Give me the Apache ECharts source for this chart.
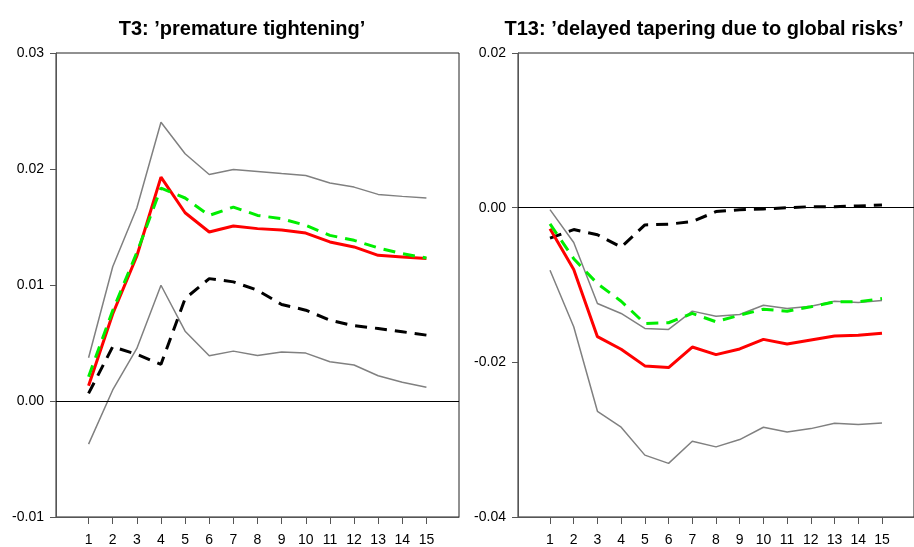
<!DOCTYPE html>
<html>
<head>
<meta charset="utf-8">
<script src="https://cdn.jsdelivr.net/npm/echarts@6/dist/echarts.min.js"></script>
<style>html,body{margin:0;padding:0;background:#fff;}#c{width:914px;height:547px;}</style>
</head>
<body>
<div id="c"></div>
<script>
const horizons = [1,2,3,4,5,6,7,8,9,10,11,12,13,14,15];
const titleLeft = "T3: ’premature tightening’";
const titleRight = "T13: ’delayed tapering due to global risks’";
const leftYTicks = [-0.01, 0.00, 0.01, 0.02, 0.03];
const rightYTicks = [-0.04, -0.02, 0.00, 0.02];

// Left panel (T3)
const t3Red   = [0.00132,0.0075,0.0125,0.0193,0.01623,0.01457,0.01509,0.01486,0.01474,0.01448,0.01371,0.01328,0.01256,0.01242,0.01228];
const t3Green = [0.0021,0.0078,0.0128,0.01836,0.0175,0.0160,0.01672,0.0160,0.01572,0.01514,0.01428,0.01385,0.0132,0.0127,0.01233];
const t3Upper = [0.00373,0.01157,0.01664,0.02403,0.02131,0.01953,0.01996,0.01979,0.01961,0.01944,0.01879,0.01844,0.01781,0.01764,0.0175];
const t3Lower = [-0.00372,0.00095,0.00453,0.00998,0.00602,0.0039,0.0043,0.00393,0.00422,0.00413,0.00339,0.0031,0.00218,0.00161,0.00118];
const t3Black = [0.00066,0.00468,0.00402,0.00316,0.00883,0.01055,0.01027,0.00955,0.00832,0.00783,0.00697,0.00649,0.00625,0.00597,0.00568];

// Right panel (T13)
const t13Red   = [-0.00274,-0.0080,-0.01668,-0.01831,-0.02046,-0.02067,-0.01802,-0.019,-0.01827,-0.01703,-0.01763,-0.01711,-0.0166,-0.01651,-0.01625];
const t13Green = [-0.0021,-0.0066,-0.00982,-0.0121,-0.01497,-0.01488,-0.01368,-0.01475,-0.0139,-0.01313,-0.01339,-0.01282,-0.01218,-0.01218,-0.01175];
const t13Upper = [-0.00026,-0.0045,-0.01239,-0.01368,-0.01561,-0.01574,-0.01338,-0.01403,-0.01381,-0.01261,-0.01304,-0.01274,-0.0121,-0.01227,-0.01201];
const t13Lower = [-0.0081,-0.0154,-0.02633,-0.02839,-0.032,-0.03307,-0.0302,-0.03093,-0.02999,-0.02839,-0.029,-0.02857,-0.02788,-0.02805,-0.02784];
const t13Black = [-0.00394,-0.00283,-0.0035,-0.0051,-0.00223,-0.00214,-0.0018,-0.00051,-0.00026,-0.00017,0.0,0.00013,0.00013,0.00022,0.00035];

const FONT = "Liberation Sans, Arial, Helvetica, sans-serif";
const pair = arr => arr.map((v,i)=>[horizons[i], v]);

function xAxisFor(gi){
  return {
    type:'value', gridIndex:gi, min:-0.35, max:16.35,
    axisLine:{show:true, onZero:false, lineStyle:{color:'#555', width:1}},
    axisTick:{show:true, length:7, lineStyle:{color:'#555'}, customValues:horizons},
    axisLabel:{show:true, margin:16, fontSize:14, color:'#000', fontFamily:FONT, customValues:horizons,
      formatter: v => String(v)},
    splitLine:{show:false}
  };
}
function yAxisFor(gi, ticks, interval){
  return {
    type:'value', gridIndex:gi, min:ticks[0], max:ticks[ticks.length-1], interval:interval,
    axisLine:{show:true, onZero:false, lineStyle:{color:'#555', width:1}},
    axisTick:{show:true, length:6, lineStyle:{color:'#555'}},
    axisLabel:{show:true, margin:12, fontSize:14, color:'#000', fontFamily:FONT,
      formatter: v => (Math.abs(v)<1e-12?0:v).toFixed(2)},
    splitLine:{show:false}
  };
}
function mk(data, gi, color, width, type, z, withZero){
  const s = {
    type:'line', xAxisIndex:gi, yAxisIndex:gi, data:pair(data),
    showSymbol:false, symbol:'none', silent:true, animation:false, z:z,
    lineStyle:{color:color, width:width, type:type}
  };
  if(withZero){
    s.markLine = {silent:true, symbol:['none','none'], label:{show:false},
      lineStyle:{color:'#000', width:1, type:'solid'}, data:[{yAxis:0}], animation:false};
  }
  return s;
}

const chart = echarts.init(document.getElementById('c'));
chart.setOption({
  animation:false,
  backgroundColor:'#fff',
  title:[
    {text:titleLeft, left:237, top:14, textAlign:'center',
      textStyle:{fontFamily:FONT, fontWeight:'bold', fontSize:20, color:'#000'}},
    {text:titleRight, left:699, top:14, textAlign:'center',
      textStyle:{fontFamily:FONT, fontWeight:'bold', fontSize:20, color:'#000'}}
  ],
  grid:[
    {left:56, top:53, width:403, height:465, show:true, borderColor:'#222', borderWidth:1, backgroundColor:'transparent'},
    {left:518, top:53, width:403, height:465, show:true, borderColor:'#222', borderWidth:1, backgroundColor:'transparent'}
  ],
  xAxis:[xAxisFor(0), xAxisFor(1)],
  yAxis:[yAxisFor(0, leftYTicks, 0.01), yAxisFor(1, rightYTicks, 0.02)],
  series:[
    mk(t3Upper,0,'#808080',1.5,'solid',2,true),
    mk(t3Lower,0,'#808080',1.5,'solid',2,false),
    mk(t3Black,0,'#000',3,[12,8],3,false),
    mk(t3Red,0,'#ff0000',3,'solid',4,false),
    mk(t3Green,0,'#00ee00',3,[12,8],5,false),
    mk(t13Upper,1,'#808080',1.5,'solid',2,true),
    mk(t13Lower,1,'#808080',1.5,'solid',2,false),
    mk(t13Black,1,'#000',3,[12,8],3,false),
    mk(t13Red,1,'#ff0000',3,'solid',4,false),
    mk(t13Green,1,'#00ee00',3,[12,8],5,false)
  ]
});
</script>
</body>
</html>
